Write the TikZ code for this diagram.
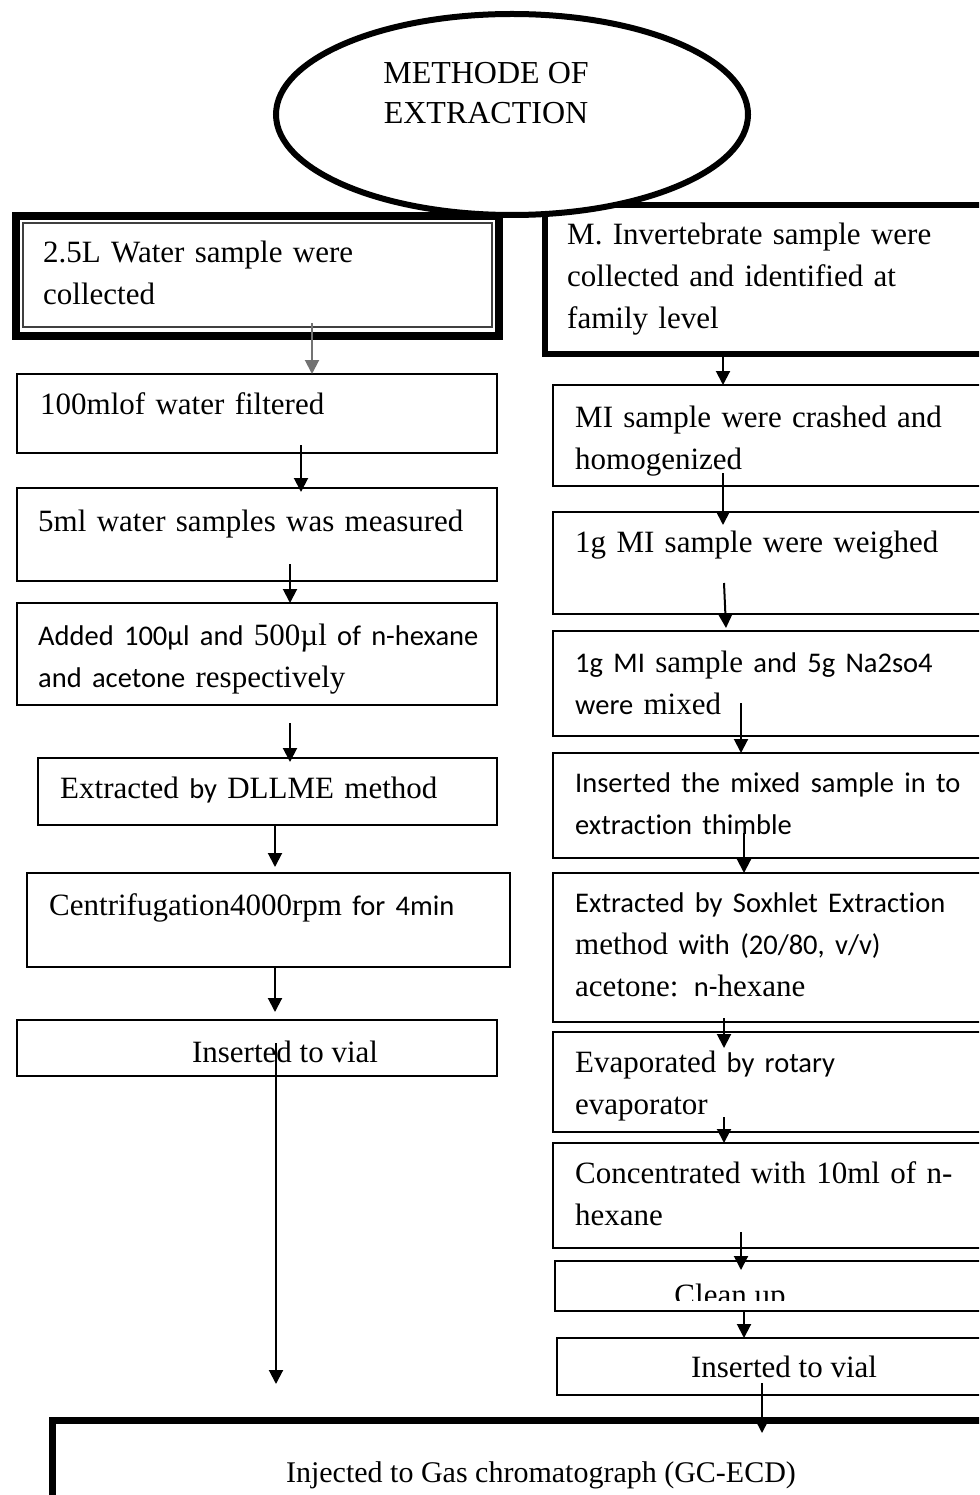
\documentclass[tikz,border=0pt]{standalone}
\usepackage{fontspec}
\setmainfont{Liberation Serif}[Ligatures=NoCommon]
\newfontfamily\calfont{Carlito}[Ligatures=NoCommon]
\usetikzlibrary{arrows.meta,shapes.geometric}
\newcommand{\clb}[1]{{\calfont\fontsize{28.5}{42}\selectfont #1}}

\begin{document}
\begin{tikzpicture}[x=1pt, y=-1pt,
  stepbox/.style={draw, line width=2pt, inner sep=0pt, outer sep=0pt, anchor=north west},
  steptxt/.style={anchor=base west, inner sep=0pt, text width=600pt, align=left,
    font=\fontsize{31}{42}\selectfont},
  midtxt/.style={anchor=base, inner sep=0pt, font=\fontsize{31}{42}\selectfont},
  flow/.style={line width=2pt, -{Triangle[length=14pt,width=14pt]}}]

\useasboundingbox (0,0) rectangle (979,1495);
\clip (0,0) rectangle (979,1495);

% ---- water column ----------------------------------------------------------
\node[stepbox, line width=8pt, minimum width=483.5, minimum height=120] (w1) at (15.5,216) {};
\node[stepbox, draw=black!75, minimum width=468.5, minimum height=103.5] (w1in) at (23,223) {};
\node[stepbox, minimum width=480, minimum height=79]  (w2) at (17,374) {};
\node[stepbox, minimum width=480, minimum height=93]  (w3) at (17,488) {};
\node[stepbox, minimum width=480, minimum height=102] (w4) at (17,603) {};
\node[stepbox, minimum width=459, minimum height=67]  (w5) at (38,758) {};
\node[stepbox, minimum width=483, minimum height=94]  (w6) at (27,873) {};
\node[stepbox, minimum width=480, minimum height=56]  (w7) at (17,1020) {};

\node[steptxt] (w1t) at (43,263) {2.5L Water sample were\\collected};
\node[steptxt] (w2t) at (40,414) {100mlof water filtered};
\node[steptxt] (w3t) at (38,531) {5ml water samples was measured};
\node[steptxt] (w4t) at (38,645) {\clb{Added 100µl and} 500µl \clb{of n-hexane}\\\clb{and acetone} respectively};
\node[steptxt] (w5t) at (60,798) {Extracted \clb{by} DLLME method};
\node[steptxt] (w6t) at (49,915) {Centrifugation4000rpm \clb{for 4min}};
\node[midtxt]  (w7t) at (285,1062) {Inserted to vial};

% ---- invertebrate column ---------------------------------------------------
\node[stepbox, line width=6pt, minimum width=445, minimum height=149] (m1) at (545,205) {};
\node[stepbox, minimum width=437, minimum height=101] (m2)  at (553,385) {};
\node[stepbox, minimum width=437, minimum height=102] (m3)  at (553,512) {};
\node[stepbox, minimum width=437, minimum height=105] (m4)  at (553,631) {};
\node[stepbox, minimum width=437, minimum height=105] (m5)  at (553,753) {};
\node[stepbox, minimum width=437, minimum height=149] (m6)  at (553,873) {};
\node[stepbox, minimum width=437, minimum height=100] (m7)  at (553,1032) {};
\node[stepbox, minimum width=437, minimum height=105] (m8)  at (553,1143) {};
\node[stepbox, minimum width=435, minimum height=50]  (m9)  at (555,1261) {};
\node[stepbox, minimum width=433, minimum height=57]  (m10) at (557,1338) {};

\node[steptxt] (m1t) at (567,245) {M. Invertebrate sample were\\collected and identified at\\family level};
\node[steptxt] (m2t) at (575,427) {MI sample were crashed and\\homogenized};
\node[steptxt] (m3t) at (575,552) {1g MI sample were weighed};
\node[steptxt] (m4t) at (575,672) {\clb{1g MI} sample \clb{and 5g Na2so4}\\\clb{were} mixed};
\node[steptxt] (m5t) at (575,792) {\clb{Inserted the mixed sample in to}\\\clb{extraction thimble}};
\node[steptxt] (m6t) at (575,912) {\clb{Extracted by Soxhlet Extraction}\\method \clb{with (20/80, v/v)}\\acetone: \clb{n-}hexane};
\node[steptxt] (m7t) at (575,1072) {Evaporated \clb{by rotary}\\evaporator};
\node[steptxt] (m8t) at (575,1183) {Concentrated with 10ml of n-\\hexane};
\begin{scope}
  \clip (555,1261) rectangle (990,1300);
  \node[midtxt] (m9t) at (730,1305) {Clean up};
\end{scope}
\node[midtxt] (m10t) at (784,1377) {Inserted to vial};

% ---- final step ------------------------------------------------------------
\node[stepbox, line width=7pt, minimum width=940, minimum height=100] (gc) at (52,1420) {};
\node[midtxt, font=\fontsize{30}{40}\selectfont] (gct) at (541,1482) {Injected to Gas chromatograph (GC-ECD)};

% ---- title -----------------------------------------------------------------
\node[ellipse, draw, line width=6pt, fill=white, minimum width=472, minimum height=201] (title) at (512,114.5) {};
\node[midtxt, align=center, font=\fontsize{32}{40}\selectfont, anchor=north] (titlet) at (486,62) {METHODE OF\\EXTRACTION};

% ---- arrows ----------------------------------------------------------------
\coordinate (g1) at (312,323);
\draw[flow, black!55] (g1) -- (w2.north -| g1);
\coordinate (a2) at (301,445);
\draw[flow] (a2) -- ([yshift=-4pt]w3.north -| a2);
\coordinate (a3) at (290,564);
\draw[flow] (a3) -- (w4.north -| a3);
\coordinate (a4) at (290,723);
\draw[flow] (a4) -- ([yshift=-4pt]w5.north -| a4);
\coordinate (a5) at (275,825);
\draw[flow] (a5) -- ([yshift=6pt]w6.north -| a5);
\coordinate (a6) at (275,967);
\draw[flow] (a6) -- ([yshift=8pt]w7.north -| a6);
\coordinate (a7) at (276,1043);
\coordinate (a7end) at (276,1384);
\draw[flow] (a7) -- (a7end);

\coordinate (b1) at (723,357);
\draw[flow] (b1) -- (m2.north -| b1);
\coordinate (b2) at (723,473);
\draw[flow] (b2) -- ([yshift=-13pt]m3.north -| b2);
\coordinate (b3) at (724,583);
\draw[flow] (b3) -- ([xshift=2pt,yshift=3pt]m4.north -| b3);
\coordinate (b4) at (741,703);
\draw[flow] (b4) -- (m5.north -| b4);
\coordinate (b5) at (744,833);
\draw[flow] (b5) -- (m6.north -| b5);
\coordinate (b6) at (724,1018);
\draw[flow] (b6) -- ([yshift=-16pt]m7.north -| b6);
\coordinate (b7) at (724,1117);
\draw[flow] (b7) -- (m8.north -| b7);
\coordinate (b8) at (741,1232);
\draw[flow] (b8) -- ([yshift=-9pt]m9.north -| b8);
\coordinate (b9) at (744,1311);
\draw[flow] (b9) -- (m10.north -| b9);
\coordinate (b10) at (762,1383);
\draw[flow] (b10) -- ([yshift=-13pt]gc.north -| b10);

\end{tikzpicture}
\end{document}
